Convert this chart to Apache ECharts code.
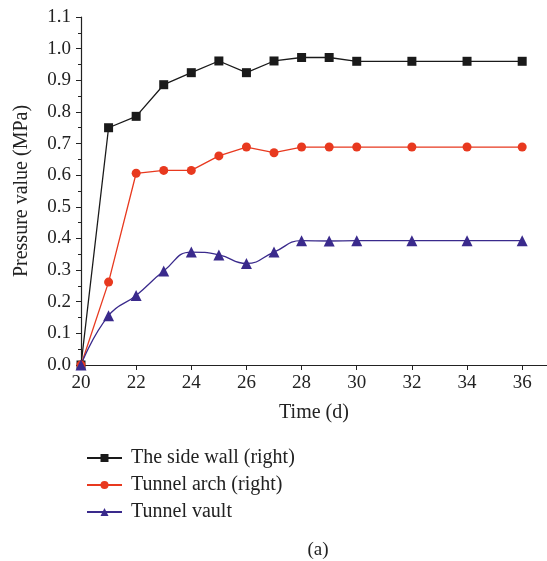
<!DOCTYPE html>
<html>
<head>
<meta charset="utf-8">
<script src="https://cdn.jsdelivr.net/npm/echarts@6/dist/echarts.min.js"></script>
<style>
  * { margin: 0; padding: 0; }
  #chart-container { width: 547px; height: 561px; background: #fff; }
</style>
</head>
<body>
<div id="chart-container"></div>
<script>
  var days = [20, 21, 22, 23, 24, 25, 26, 27, 28, 29, 30, 32, 34, 36]
  var sideWall = [0, 0.75, 0.786, 0.886, 0.924, 0.961, 0.924, 0.961, 0.972, 0.972, 0.96, 0.96, 0.96, 0.96]
  var tunnelArch = [0, 0.262, 0.606, 0.615, 0.615, 0.661, 0.689, 0.671, 0.689, 0.689, 0.689, 0.689, 0.689, 0.689]
  var tunnelVault = [0, 0.156, 0.22, 0.297, 0.357, 0.348, 0.321, 0.357, 0.393, 0.392, 0.393, 0.393, 0.393, 0.393]
  var xTicks = [20, 22, 24, 26, 28, 30, 32, 34, 36]

  function pairs(vals) {
    return days.map(function (d, i) { return [d, vals[i]] })
  }

  var font = 'Liberation Serif'
  var chartDom = document.getElementById('chart-container')
  var myChart = echarts.init(chartDom, null, { renderer: 'canvas' })
  var option = {
    animation: false,
    textStyle: { fontFamily: font },
    title: {
      text: '(a)',
      left: 313,
      textAlign: 'center',
      top: 536,
      textStyle: { fontFamily: font, fontSize: 19, fontWeight: 'normal', color: '#222' },
    },
    grid: {
      left: 81,
      right: 0,
      top: 17,
      bottom: 196,
      containLabel: false,
    },
    legend: {
      orient: 'vertical',
      left: 81,
      top: 443,
      itemWidth: 35,
      itemHeight: 10,
      itemGap: 7,
      textStyle: { fontFamily: font, fontSize: 20, color: '#222', padding: [0, 0, 0, 4] },
      data: ['The side wall (right)', 'Tunnel arch (right)', 'Tunnel vault'],
    },
    xAxis: {
      type: 'value',
      min: 20,
      max: 36.9,
      interval: 2,
      name: 'Time (d)',
      nameLocation: 'middle',
      nameGap: 38,
      nameTextStyle: { fontFamily: font, fontSize: 20, color: '#222' },
      axisLine: { show: true, lineStyle: { color: '#222', width: 1.2 } },
      axisTick: { show: true, customValues: xTicks, length: 5, inside: false, lineStyle: { color: '#222' } },
      axisLabel: { customValues: xTicks, fontFamily: font, fontSize: 19, color: '#222', margin: 9 },
      splitLine: { show: false },
    },
    yAxis: {
      type: 'value',
      min: 0,
      max: 1.1,
      interval: 0.1,
      name: 'Pressure value (MPa)',
      nameLocation: 'middle',
      nameGap: 49,
      nameTextStyle: { fontFamily: font, fontSize: 20, color: '#222' },
      axisLine: { show: true, lineStyle: { color: '#222', width: 1.2 } },
      axisTick: { show: true, length: 5, lineStyle: { color: '#222' } },
      minorTick: { show: true, splitNumber: 2, length: 3, lineStyle: { color: '#222' } },
      axisLabel: {
        fontFamily: font, fontSize: 19, color: '#222', margin: 10,
        formatter: function (v) { return v.toFixed(1) },
      },
      splitLine: { show: false },
    },
    series: [
      {
        name: 'The side wall (right)',
        type: 'line',
        data: pairs(sideWall),
        symbol: 'rect',
        symbolSize: 9,
        lineStyle: { color: '#1a1a1a', width: 1.3 },
        itemStyle: { color: '#1a1a1a' },
      },
      {
        name: 'Tunnel arch (right)',
        type: 'line',
        data: pairs(tunnelArch),
        symbol: 'circle',
        symbolSize: 9,
        lineStyle: { color: '#e8391f', width: 1.3 },
        itemStyle: { color: '#e8391f' },
      },
      {
        name: 'Tunnel vault',
        type: 'line',
        data: pairs(tunnelVault),
        symbol: 'triangle',
        symbolSize: 11,
        smooth: 0.5,
        lineStyle: { color: '#3a2a8c', width: 1.3 },
        itemStyle: { color: '#3a2a8c' },
      },
    ],
  }
  myChart.setOption(option)
  window.addEventListener('resize', myChart.resize)
</script>
</body>
</html>
